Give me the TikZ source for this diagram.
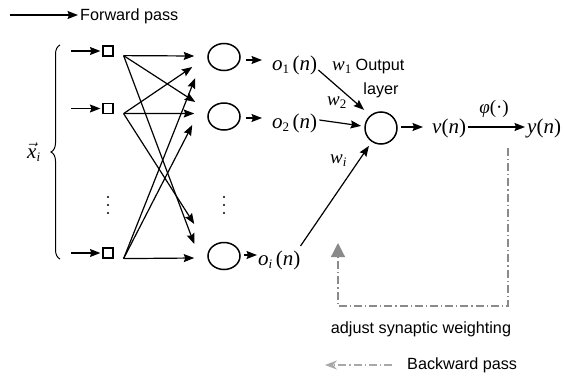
\documentclass[tikz,border=0pt]{standalone}
\usepackage{fontspec}
\setmainfont{Liberation Sans}
\newfontfamily\tms{Liberation Serif}
\usetikzlibrary{arrows.meta,shapes.geometric,decorations.pathreplacing}

\definecolor{bp}{HTML}{8A8A8A}
\definecolor{bplight}{HTML}{A8A8A8}

% italic symbol and lowered index
\newcommand\sy[1]{{\itshape #1}}
\newcommand\ix[1]{\raisebox{-0.35ex}{\fontsize{13}{13}\selectfont #1}}

\tikzset{
  fwd/.style={-{Stealth[length=10.5pt,width=8pt,inset=1.5pt]}, line width=1.3pt},
  link/.style={fwd, line width=1.2pt},
  hid/.style={ellipse, draw, line width=1.5pt, minimum width=32pt, minimum height=27pt, inner sep=0pt},
  outc/.style={circle, draw, line width=1.5pt, minimum size=32pt, inner sep=0pt},
  inp/.style={rectangle, draw, line width=1.2pt, minimum size=10pt, inner sep=0pt},
  sym/.style={font=\tms\fontsize{21}{24}\selectfont, inner sep=0pt},
  wsym/.style={font=\tms\fontsize{19}{22}\selectfont, inner sep=0pt},
  lbl/.style={font=\fontsize{16.2}{19}\selectfont, inner sep=0pt},
  back/.style={draw=bp, line width=1.2pt, dash pattern=on 8pt off 3pt on 1.2pt off 3pt,
               -{Triangle[length=14pt,width=14pt,fill=bp]}},
  backlg/.style={draw=bplight, line width=1.2pt, dash pattern=on 8pt off 3pt on 1.2pt off 3pt,
               -{Stealth[length=12pt,width=9pt,inset=4pt,fill=bplight]}},
  vdot/.style={fill, circle, inner sep=0pt, minimum size=2.4pt}
}

\begin{document}
\begin{tikzpicture}[x=1pt,y=-1pt]
\useasboundingbox (0,0) rectangle (565,378);

% legend: forward pass
\node[lbl, anchor=base west] (fwdtxt) at (80,20) {Forward pass};
\coordinate (fl) at (10,15);
\draw[fwd] (fl) -- ([xshift=-2pt,yshift=5pt]fwdtxt.base west);

% input vector and brace
\draw[decorate, decoration={brace, amplitude=9pt}, line width=1pt] (60,259) -- (60,45);
\node[sym, anchor=base west] (xi) at (27,158)
  {$\vec{\mbox{\itshape x}}_{\mbox{\fontsize{13}{13}\selectfont\itshape i}}$};

% input layer
\node[inp] (i1) at (108,51) {};
\node[inp] (i2) at (108,108.5) {};
\node[inp] (i3) at (108,253) {};
\foreach \k in {1,2,3}{
  \coordinate (x\k) at ([xshift=-31pt]i\k.west);
  \draw[link] (x\k) -- ([xshift=-2pt]i\k.west);
}
\coordinate (s1) at ([xshift=10pt,yshift=1pt]i1.south east);
\coordinate (s2) at ([xshift=10pt,yshift=0.5pt]i2.south east);
\coordinate (s3) at ([xshift=10pt]i3.south east);
\node[vdot] (di1) at (108,197) {};
\node[vdot] (di2) at (108,205) {};
\node[vdot] (di3) at (108,213) {};

% hidden layer
\node[hid] (h1) at (224,57) {};
\node[hid] (h2) at (224,116.5) {};
\node[hid] (h3) at (224,256) {};
\node[vdot] (dh1) at (224,197) {};
\node[vdot] (dh2) at (224,205) {};
\node[vdot] (dh3) at (224,213) {};

% input -> hidden connections
\draw[link] (s1) -- ([xshift=-13pt,yshift=1pt]h1.west);
\draw[link] (s2) -- ([xshift=-15pt,yshift=-10pt]h1.west);
\draw[link] (s3) -- ([xshift=-12pt,yshift=-21pt]h1.west);
\draw[link] (s1) -- ([xshift=-12pt,yshift=14.5pt]h2.west);
\draw[link] (s2) -- ([xshift=-13pt,yshift=3pt]h2.west);
\draw[link] (s3) -- ([xshift=-15pt,yshift=-8.5pt]h2.west);
\draw[link] (s2) -- ([xshift=-13pt,yshift=32pt]h3.west);
\draw[link] (s1) -- ([xshift=-13pt,yshift=12pt]h3.west);
\draw[link] (s3) -- ([xshift=-13pt,yshift=-2pt]h3.west);

% hidden outputs
\node[sym, anchor=base west] (o1) at (272,70) {\sy{o}\ix{1}\,(\sy{n})};
\node[sym, anchor=base west] (o2) at (272,128) {\sy{o}\ix{2}\,(\sy{n})};
\node[sym, anchor=base west] (oi) at (258,265) {\sy{o}\ix{\itshape i}\,(\sy{n})};
\draw[link] ([xshift=5pt,yshift=-3pt]h1.east) -- ([xshift=-10pt,yshift=10pt]o1.base west);
\draw[link] ([xshift=5pt,yshift=-1.5pt]h2.east) -- ([xshift=-10pt,yshift=10pt]o2.base west);
\draw[link] ([xshift=3pt,yshift=1pt]h3.east) -- ([xshift=-1pt,yshift=10pt]oi.base west);

% output layer
\node[outc] (out) at (381,128) {};
\node[lbl, anchor=base] (outl1) at (380,70.5) {Output};
\node[lbl, anchor=base] (outl2) at (381,94) {layer};
\node[wsym, anchor=base west] (w1) at (332,70) {\sy{w}\ix{1}};
\node[wsym, anchor=base west] (w2) at (327,105) {\sy{w}\ix{2}};
\node[wsym, anchor=base west] (wi) at (330,163) {\sy{w}\ix{\itshape i}};

\draw[link] ([xshift=1pt]o1.base east) -- ([shift={(133:24.8pt)}]out.center);
\draw[link] ([xshift=2pt,yshift=8pt]o2.base east) -- ([shift={(174:20pt)}]out.center);
\draw[link] ([yshift=19pt]oi.base east) -- ([shift={(236:21.6pt)}]out.center);

% induced field and activation
\node[sym, anchor=base west] (v) at (432,133) {\sy{v}(\sy{n})};
\node[sym, anchor=base west] (y) at (527,133) {\sy{y}(\sy{n})};
\node[font=\tms\fontsize{19}{22}\selectfont, inner sep=0pt, anchor=base] (phi) at (494,113.5) {\sy{φ}(·)};
\draw[fwd] ([xshift=3pt,yshift=1pt]out.east) -- ([xshift=-9pt,yshift=6pt]v.base west);
\draw[fwd] ([xshift=2pt,yshift=6pt]v.base east) -- ([xshift=-2pt,yshift=6pt]y.base west);

% error feedback
\coordinate (fb) at (508,148);
\coordinate (bc1) at (508,306);
\coordinate (bc2) at (338,306);
\coordinate (adj) at (338,243);
\draw[back] (fb) -- (bc1) -- (bc2) -- (adj);
\node[lbl, anchor=base] (adjtxt) at (421,333) {adjust synaptic weighting};

% legend: backward pass
\node[lbl, anchor=base west] (bktxt) at (407,369) {Backward pass};
\coordinate (bl) at (325,365);
\draw[backlg] ([xshift=-15pt,yshift=4pt]bktxt.base west) -- (bl);
\end{tikzpicture}
\end{document}
